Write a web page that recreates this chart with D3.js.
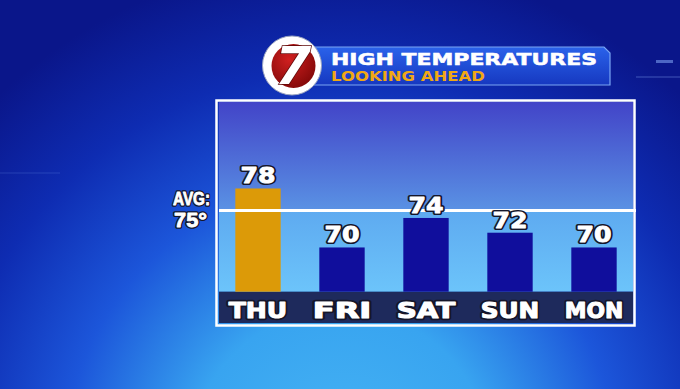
<!DOCTYPE html>
<html>
<head>
<meta charset="utf-8">
<script src="https://cdn.jsdelivr.net/npm/d3@7"></script>
<style>
  html, body { margin: 0; padding: 0; background: #0c1a8a; }
  svg { display: block; }
</style>
</head>
<body>
<div id="chart"></div>
<script>
const days = ['THU', 'FRI', 'SAT', 'SUN', 'MON'];
const highs = [78, 70, 74, 72, 70];
const barColors = ['#dc9a08', '#100e9c', '#100e9c', '#100e9c', '#100e9c'];
const average = 75;
const titleLines = ['HIGH TEMPERATURES', 'LOOKING AHEAD'];

const width = 680, height = 389;

const svg = d3.select('#chart')
    .append('svg')
    .attr('width', width)
    .attr('height', height);

const defs = svg.append('defs');

const bg = defs.append('radialGradient')
    .attr('id', 'bg')
    .attr('gradientUnits', 'userSpaceOnUse')
    .attr('cx', 340).attr('cy', 460)
    .attr('r', 500);
bg.append('stop').attr('offset', '0%').attr('stop-color', '#46b4f4');
bg.append('stop').attr('offset', '30%').attr('stop-color', '#38a4f0');
bg.append('stop').attr('offset', '55%').attr('stop-color', '#1c56da');
bg.append('stop').attr('offset', '78%').attr('stop-color', '#0e2cb2');
bg.append('stop').attr('offset', '100%').attr('stop-color', '#0a168a');

const upper = defs.append('linearGradient')
    .attr('id', 'upper').attr('x1', 0).attr('y1', 0).attr('x2', 0).attr('y2', 1);
upper.append('stop').attr('offset', '0%').attr('stop-color', '#4244c8');
upper.append('stop').attr('offset', '100%').attr('stop-color', '#5a92e4');

const lower = defs.append('linearGradient')
    .attr('id', 'lower').attr('x1', 0).attr('y1', 0).attr('x2', 0).attr('y2', 1);
lower.append('stop').attr('offset', '0%').attr('stop-color', '#5eaaf0');
lower.append('stop').attr('offset', '100%').attr('stop-color', '#6cc4fa');

const banner = defs.append('linearGradient')
    .attr('id', 'banner').attr('x1', 0).attr('y1', 0).attr('x2', 0).attr('y2', 1);
banner.append('stop').attr('offset', '0%').attr('stop-color', '#2a62ea');
banner.append('stop').attr('offset', '100%').attr('stop-color', '#1638c0');

const red = defs.append('radialGradient')
    .attr('id', 'red').attr('cx', '40%').attr('cy', '35%').attr('r', '70%');
red.append('stop').attr('offset', '0%').attr('stop-color', '#d02020');
red.append('stop').attr('offset', '100%').attr('stop-color', '#820808');

svg.append('rect')
    .attr('width', width)
    .attr('height', height)
    .attr('fill', 'url(#bg)');

// faint studio lines in the backdrop
const deco = svg.append('g').attr('stroke', '#8fb6ff').attr('stroke-opacity', 0.2);
deco.append('line').attr('x1', 656).attr('x2', 673).attr('y1', 61.5).attr('y2', 61.5).attr('stroke-width', 3).attr('stroke-opacity', 0.5);
deco.append('line').attr('x1', 636).attr('x2', 680).attr('y1', 77).attr('y2', 77).attr('stroke-width', 2);
deco.append('line').attr('x1', 0).attr('x2', 60).attr('y1', 173).attr('y2', 173).attr('stroke-width', 1);

// chart frame
const frame = { left: 219, right: 633, top: 102, band: 291.7, bottom: 323 };

const x = d3.scaleBand()
    .domain(days)
    .range([216, 636])
    .paddingInner(0.46)
    .paddingOuter(0.23);

const y = d3.scaleLinear()
    .domain([64, 90])
    .range([frame.band, 100]);

svg.append('rect')
    .attr('x', frame.left).attr('y', frame.top)
    .attr('width', frame.right - frame.left)
    .attr('height', y(average) - frame.top)
    .attr('fill', 'url(#upper)');

svg.append('rect')
    .attr('x', frame.left).attr('y', y(average))
    .attr('width', frame.right - frame.left)
    .attr('height', frame.band - y(average))
    .attr('fill', 'url(#lower)');

svg.append('rect')
    .attr('x', frame.left).attr('y', frame.band)
    .attr('width', frame.right - frame.left)
    .attr('height', frame.bottom - frame.band)
    .attr('fill', '#1e2a5c');

svg.append('rect')
    .attr('x', 216.5).attr('y', 100.5)
    .attr('width', 418).attr('height', 225)
    .attr('fill', 'none')
    .attr('stroke', '#ffffff')
    .attr('stroke-width', 2.5);

svg.selectAll('.bar')
    .data(highs)
    .enter()
    .append('rect')
    .attr('class', 'bar')
    .attr('x', (d, i) => x(days[i]))
    .attr('y', d => y(d))
    .attr('width', x.bandwidth())
    .attr('height', d => frame.band - y(d))
    .attr('fill', (d, i) => barColors[i]);

svg.append('line')
    .attr('x1', frame.left).attr('x2', 636)
    .attr('y1', y(average)).attr('y2', y(average))
    .attr('stroke', '#ffffff')
    .attr('stroke-width', 3);

// heavy white lettering with a dark rim, drawn as two layers
function heavyText(g, cls, data, opts) {
    const layers = [
        { stroke: '#15162a', sw: opts.rim, fill: '#15162a' },
        { stroke: '#ffffff', sw: opts.body, fill: '#ffffff' }
    ];
    layers.forEach((l, k) => {
        g.selectAll('.' + cls + k)
            .data(data)
            .enter()
            .append('text')
            .attr('class', cls + k)
            .attr('x', opts.x)
            .attr('y', opts.y)
            .attr('text-anchor', opts.anchor || 'middle')
            .attr('font-family', opts.family || 'DejaVu Sans, sans-serif')
            .attr('font-weight', 'bold')
            .attr('font-size', opts.size)
            .attr('textLength', opts.len)
            .attr('lengthAdjust', 'spacingAndGlyphs')
            .attr('fill', l.fill)
            .attr('stroke', l.stroke)
            .attr('stroke-width', l.sw)
            .attr('stroke-linejoin', 'round')
            .text(opts.text);
    });
}

heavyText(svg, 'value', highs, {
    x: (d, i) => x(days[i]) + x.bandwidth() / 2,
    y: d => y(d) - 5,
    size: 21,
    len: d => String(d).length * 17.5,
    rim: 4,
    body: 0.9,
    text: d => d
});

heavyText(svg, 'day', days, {
    x: d => x(d) + x.bandwidth() / 2,
    y: 317.5,
    size: 22,
    len: d => d.length * 19.5,
    rim: 4.5,
    body: 1.1,
    text: d => d
});

// average label
heavyText(svg, 'avg', ['AVG:'], {
    x: 210, y: 205, anchor: 'end',
    family: 'Liberation Sans Narrow, Liberation Sans, sans-serif',
    size: 18, len: 37, rim: 3.5, body: 0.8,
    text: d => d
});

heavyText(svg, 'avgval', [average + '\u00b0'], {
    x: 207, y: 227, anchor: 'end',
    family: 'Liberation Sans Narrow, Liberation Sans, sans-serif',
    size: 21, len: 33, rim: 3.5, body: 0.8,
    text: d => d
});

// title banner
svg.append('path')
    .attr('d', 'M300,47 L604,47 L610,53 L610,85 L300,85 Z')
    .attr('fill', 'url(#banner)')
    .attr('stroke', '#7aa6f4')
    .attr('stroke-width', 1.2);

svg.append('text')
    .attr('x', 331).attr('y', 65)
    .attr('font-family', 'DejaVu Sans, sans-serif')
    .attr('font-weight', 'bold')
    .attr('font-size', 16)
    .attr('textLength', 266)
    .attr('lengthAdjust', 'spacingAndGlyphs')
    .attr('fill', '#ffffff')
    .attr('stroke', '#ffffff')
    .attr('stroke-width', 0.5)
    .text(titleLines[0]);

svg.append('text')
    .attr('x', 331).attr('y', 81)
    .attr('font-family', 'DejaVu Sans, sans-serif')
    .attr('font-weight', 'bold')
    .attr('font-size', 13.5)
    .attr('textLength', 154)
    .attr('lengthAdjust', 'spacingAndGlyphs')
    .attr('fill', '#f0a814')
    .text(titleLines[1]);

// station logo
const logo = svg.append('g').attr('transform', 'translate(292,65.5)');
logo.append('circle').attr('r', 29.5).attr('fill', '#ffffff').attr('stroke', '#9aa4c0').attr('stroke-width', 1);
logo.append('circle').attr('cx', 1.5).attr('cy', 0.5).attr('r', 22).attr('fill', 'url(#red)');
logo.append('text')
    .attr('x', 1).attr('y', 18)
    .attr('text-anchor', 'middle')
    .attr('font-family', 'DejaVu Sans, sans-serif')
    .attr('font-weight', 'bold')
    .attr('font-style', 'italic')
    .attr('font-size', 52)
    .attr('fill', '#ffffff')
    .attr('stroke', '#5a0606')
    .attr('stroke-width', 1.5)
    .attr('paint-order', 'stroke')
    .text('7');
</script>
</body>
</html>
